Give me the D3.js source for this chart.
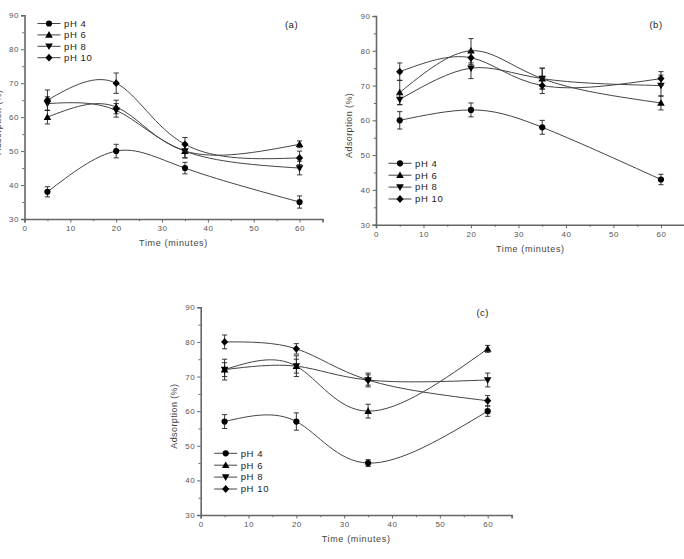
<!DOCTYPE html>
<html>
<head>
<meta charset="utf-8">
<script src="https://cdn.jsdelivr.net/npm/d3@7"></script>
<style>
  html, body { margin: 0; padding: 0; background: #fff; }
  svg { display: block; font-family: "Liberation Sans", Arial, sans-serif; }
</style>
</head>
<body>
<svg id="chart" width="684" height="559"></svg>
<script>
// ---- data ----
const times = [5, 20, 35, 60];
const seriesNames = ["pH 4", "pH 6", "pH 8", "pH 10"];
const markerTypes = ["circle", "triangle", "triangleDown", "diamond"];
const xTicks = [0, 10, 20, 30, 40, 50, 60];
const yTicks = [30, 40, 50, 60, 70, 80, 90];
const panelLabels = ["(a)", "(b)", "(c)"];

const panelA_values = [[38, 50, 45, 35], [60, 63, 50, 52], [64, 62, 50, 45], [65, 70, 52, 48]];
const panelA_errors = [[1.5, 2, 1.7, 1.8], [2, 2, 2, 1], [2, 2, 2, 2], [3, 3, 2, 2]];
const panelB_values = [[60, 63, 58, 43], [68, 80, 72, 65], [66, 75, 72, 70], [74, 78, 70, 72]];
const panelB_errors = [[2.5, 2, 2, 1.5], [3.5, 3.5, 3, 2], [1.5, 3, 3, 3], [2.5, 2, 2.3, 2]];
const panelC_values = [[57, 57, 45, 60], [72, 73, 60, 78], [72, 73, 69, 69], [80, 78, 69, 63]];
const panelC_errors = [[2, 2.5, 1, 1.5], [3, 3, 2, 1], [2, 2, 2, 2], [2, 1.5, 1.5, 1.5]];

// ---- layout ----
const panels = [
  { values: panelA_values, errors: panelA_errors, label: panelLabels[0],
    x0: 24.5, x1: 322.5, yTop: 15.3, yBot: 219, labelPos: [291.5, 28],
    legend: { x: 49, y: 23.5, dy: 11.4 }, yLabelX: 0.5 },
  { values: panelB_values, errors: panelB_errors, label: panelLabels[1],
    x0: 376, x1: 684.7, yTop: 16, yBot: 224.7, labelPos: [656, 28],
    legend: { x: 400, y: 163.3, dy: 11.9 }, yLabelX: 352 },
  { values: panelC_values, errors: panelC_errors, label: panelLabels[2],
    x0: 200.7, x1: 511.6, yTop: 307.3, yBot: 515, labelPos: [482.7, 316],
    legend: { x: 225.7, y: 453.3, dy: 11.9 }, yLabelX: 176.7 }
];

const svg = d3.select("#chart");
const axisColor = "#666";
const textColor = "#555";

function markerPath(type, cx, cy) {
  switch (type) {
    case "triangle": return `M${cx},${cy - 3.8}L${cx + 3.8},${cy + 2.8}L${cx - 3.8},${cy + 2.8}Z`;
    case "triangleDown": return `M${cx},${cy + 3.8}L${cx + 3.8},${cy - 2.8}L${cx - 3.8},${cy - 2.8}Z`;
    case "diamond": return `M${cx},${cy - 3.9}L${cx + 3.6},${cy}L${cx},${cy + 3.9}L${cx - 3.6},${cy}Z`;
  }
  return null;
}
function drawMarker(g, type, cx, cy) {
  if (type === "circle") {
    g.append("circle").attr("cx", cx).attr("cy", cy).attr("r", 3.1).attr("fill", "#000");
  } else {
    g.append("path").attr("d", markerPath(type, cx, cy)).attr("fill", "#000");
  }
}

panels.forEach(p => {
  const x = d3.scaleLinear().domain([0, 65]).range([p.x0, p.x1]);
  const y = d3.scaleLinear().domain([30, 90]).range([p.yBot, p.yTop]);
  const g = svg.append("g");

  // x axis
  const xAxis = d3.axisBottom(x).tickValues(xTicks).tickSize(3.5).tickPadding(3).tickFormat(d3.format("d"));
  const gx = g.append("g").attr("transform", `translate(0,${p.yBot})`).call(xAxis);
  gx.attr("font-family", null).attr("font-size", null);
  gx.select(".domain").attr("stroke", axisColor).attr("stroke-width", 1.6);
  gx.selectAll(".tick line").attr("stroke", axisColor).attr("stroke-width", 1);
  gx.selectAll(".tick text").attr("fill", textColor).style("font-size", "8px").style("letter-spacing", "0.5px");
  const xMinor = d3.axisBottom(x).tickValues([5, 15, 25, 35, 45, 55, 65]).tickSize(2.2).tickFormat("");
  const gxm = g.append("g").attr("transform", `translate(0,${p.yBot})`).call(xMinor);
  gxm.select(".domain").remove();
  gxm.selectAll(".tick line").attr("stroke", axisColor);

  // y axis
  const yAxis = d3.axisLeft(y).tickValues(yTicks).tickSize(3.5).tickPadding(2).tickFormat(d3.format("d"));
  const gy = g.append("g").attr("transform", `translate(${p.x0},0)`).call(yAxis);
  gy.attr("font-family", null).attr("font-size", null);
  gy.select(".domain").attr("stroke", axisColor).attr("stroke-width", 1.6);
  gy.selectAll(".tick line").attr("stroke", axisColor).attr("stroke-width", 1);
  gy.selectAll(".tick text").attr("fill", textColor).style("font-size", "8px").style("letter-spacing", "0.5px");
  const yMinor = d3.axisLeft(y).tickValues([35, 45, 55, 65, 75, 85]).tickSize(2.2).tickFormat("");
  const gym = g.append("g").attr("transform", `translate(${p.x0},0)`).call(yMinor);
  gym.select(".domain").remove();
  gym.selectAll(".tick line").attr("stroke", axisColor);

  // axis titles (centred on the full axis length)
  g.append("text")
    .attr("x", (p.x0 + p.x1) / 2).attr("y", p.yBot + 27)
    .attr("text-anchor", "middle").attr("fill", "#444")
    .style("font-size", "9px").style("letter-spacing", "0.65px")
    .text("Time (minutes)");
  const yc = (p.yTop + p.yBot) / 2 + 5;
  g.append("text")
    .attr("transform", `translate(${p.yLabelX},${yc}) rotate(-90)`)
    .attr("text-anchor", "middle").attr("fill", "#444")
    .style("font-size", "9px").style("letter-spacing", "0.4px")
    .text("Adsorption (%)");

  // panel label
  g.append("text").attr("x", p.labelPos[0]).attr("y", p.labelPos[1])
    .attr("text-anchor", "middle").attr("fill", "#222")
    .style("font-size", "9.5px").style("letter-spacing", "0.5px").text(p.label);

  // series
  const line = d3.line().x(d => x(d[0])).y(d => y(d[1])).curve(d3.curveNatural);
  p.values.forEach((vals, si) => {
    const pts = times.map((t, i) => [t, vals[i]]);
    g.append("path").attr("d", line(pts)).attr("fill", "none")
      .attr("stroke", "#444").attr("stroke-width", 1);
    pts.forEach((pt, i) => {
      const e = p.errors[si][i];
      const cx = x(pt[0]);
      const yh = y(pt[1] + e), yl = y(pt[1] - e);
      g.append("line").attr("x1", cx).attr("x2", cx).attr("y1", yh).attr("y2", yl)
        .attr("stroke", "#222").attr("stroke-width", 0.9);
      [yh, yl].forEach(yy => g.append("line").attr("x1", cx - 2.6).attr("x2", cx + 2.6)
        .attr("y1", yy).attr("y2", yy).attr("stroke", "#222").attr("stroke-width", 0.9));
    });
    pts.forEach(pt => drawMarker(g, markerTypes[si], x(pt[0]), y(pt[1])));
  });

  // legend
  seriesNames.forEach((name, si) => {
    const ly = p.legend.y + si * p.legend.dy;
    const lx = p.legend.x;
    g.append("line").attr("x1", lx - 11.5).attr("x2", lx + 11.5).attr("y1", ly).attr("y2", ly)
      .attr("stroke", "#444").attr("stroke-width", 1);
    drawMarker(g, markerTypes[si], lx, ly);
    g.append("text").attr("x", lx + 15).attr("y", ly + 3.3)
      .attr("fill", "#222").style("font-size", "9.5px").style("letter-spacing", "0.6px").text(name);
  });
});
</script>
</body>
</html>
